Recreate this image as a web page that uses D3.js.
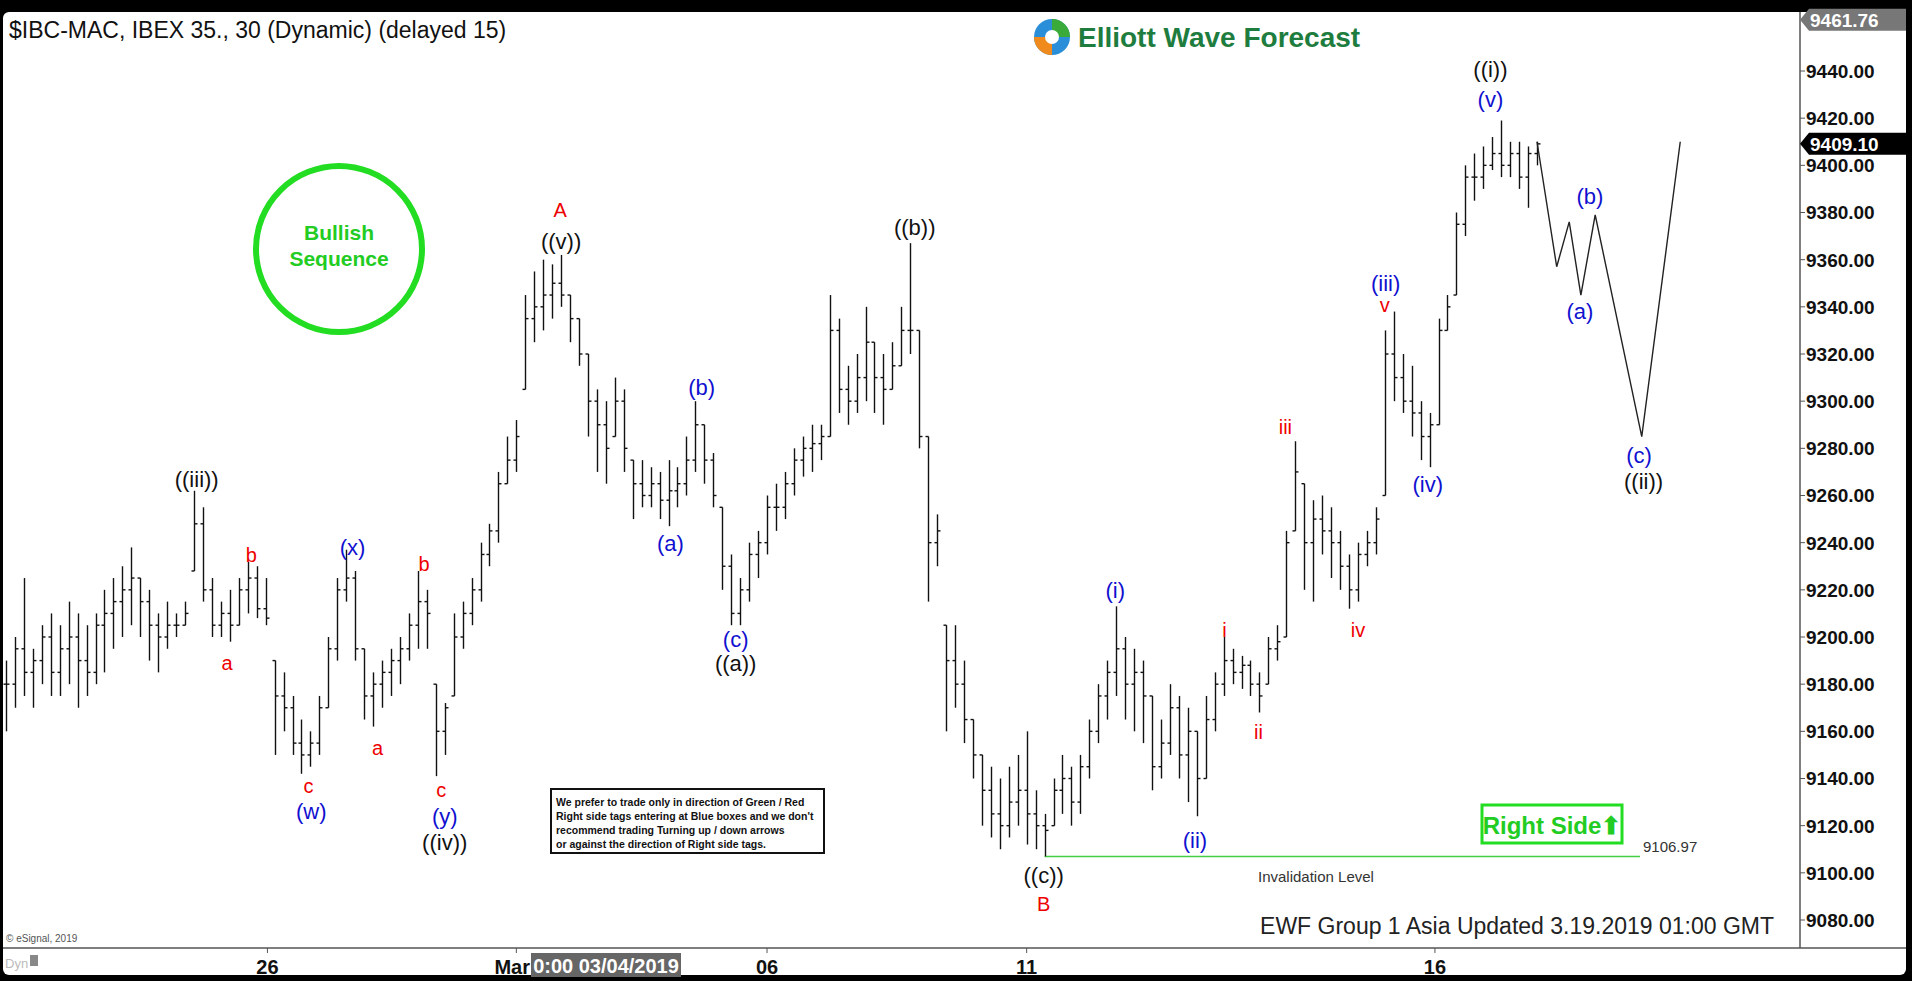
<!DOCTYPE html>
<html>
<head>
<meta charset="utf-8">
<script src="https://cdn.jsdelivr.net/npm/d3@7"></script>
<style>
  body { margin: 0; background: #000; }
  svg { display: block; font-family: Arial, "Liberation Sans", sans-serif; }
</style>
</head>
<body>
<svg id="chart" width="1912" height="981"></svg>
<script>
// 30 min bars: [high, low, close]
var bars = [
  [9190,9160,9180],[9200,9170,9195],[9225,9175,9185],[9195,9170,9190],[9205,9180,9200],
  [9210,9175,9185],[9205,9175,9195],[9215,9180,9200],[9210,9170,9190],[9205,9175,9185],
  [9210,9180,9205],[9220,9185,9210],[9225,9195,9215],[9230,9200,9220],[9238,9205,9225],
  [9225,9200,9215],[9220,9190,9205],[9210,9185,9200],[9215,9195,9205],[9210,9200,9205],
  [9215,9205,9210],[9262,9228,9248],[9255,9215,9220],[9225,9200,9205],[9215,9200,9210],
  [9220,9198,9205],[9225,9205,9220],[9232,9210,9225],[9230,9208,9212],[9225,9205,9208],
  [9190,9150,9175],[9185,9160,9170],[9175,9150,9155],[9165,9142,9150],[9160,9145,9155],
  [9175,9150,9170],[9200,9170,9195],[9225,9190,9220],[9237,9215,9225],[9228,9190,9195],
  [9195,9165,9175],[9185,9162,9180],[9190,9170,9185],[9195,9175,9190],[9200,9180,9195],
  [9210,9190,9205],[9228,9195,9215],[9220,9195,9210],[9180,9141,9160],[9172,9150,9170],
  [9210,9175,9200],[9215,9195,9210],[9225,9205,9220],[9240,9215,9235],[9248,9230,9245],
  [9270,9240,9265],[9285,9265,9275],[9292,9270,9285],[9345,9305,9335],[9355,9325,9340],
  [9360,9330,9345],[9358,9335,9350],[9362,9340,9345],[9345,9325,9335],[9335,9315,9320],
  [9320,9285,9300],[9305,9270,9290],[9300,9265,9280],[9310,9285,9300],[9305,9270,9280],
  [9275,9250,9265],[9275,9255,9260],[9272,9255,9265],[9270,9250,9258],[9275,9247,9262],
  [9272,9255,9265],[9285,9260,9275],[9300,9270,9290],[9290,9265,9275],[9278,9255,9260],
  [9255,9220,9230],[9235,9205,9210],[9225,9205,9220],[9240,9215,9235],[9245,9225,9240],
  [9260,9235,9255],[9265,9245,9255],[9270,9250,9265],[9280,9260,9275],[9285,9268,9280],
  [9290,9270,9282],[9290,9275,9285],[9345,9285,9330],[9335,9295,9305],[9315,9290,9300],
  [9320,9295,9310],[9340,9300,9325],[9325,9295,9310],[9320,9290,9305],[9325,9305,9315],
  [9340,9315,9330],[9367,9320,9330],[9330,9280,9285],[9285,9215,9240],[9252,9230,9245],
  [9205,9160,9190],[9205,9170,9180],[9190,9155,9165],[9165,9140,9150],[9150,9120,9135],
  [9145,9115,9125],[9140,9110,9120],[9145,9115,9130],[9150,9120,9135],[9160,9112,9125],
  [9135,9110,9120],[9125,9107,9118],[9140,9120,9135],[9150,9125,9140],[9145,9120,9130],
  [9150,9125,9145],[9165,9140,9160],[9180,9155,9175],[9190,9165,9185],[9213,9175,9195],
  [9200,9165,9180],[9195,9160,9185],[9190,9155,9175],[9175,9135,9145],[9165,9140,9155],
  [9180,9150,9170],[9175,9140,9150],[9170,9130,9160],[9160,9124,9140],[9175,9140,9165],
  [9185,9160,9180],[9200,9175,9190],[9195,9180,9185],[9192,9178,9188],[9190,9175,9180],
  [9185,9168,9175],[9200,9180,9195],[9205,9190,9198],[9245,9200,9240],[9283,9245,9270],
  [9265,9220,9240],[9258,9215,9250],[9260,9235,9245],[9255,9225,9240],[9245,9220,9230],
  [9235,9212,9220],[9240,9215,9235],[9245,9230,9240],[9255,9235,9250],[9330,9260,9320],
  [9338,9300,9310],[9320,9295,9300],[9315,9285,9295],[9300,9275,9285],[9295,9272,9290],
  [9335,9290,9330],[9345,9330,9340],[9380,9345,9375],[9400,9370,9395],[9405,9385,9395],
  [9408,9390,9400],[9412,9398,9405],[9419,9395,9400],[9410,9395,9405],[9410,9390,9395],
  [9408,9382,9405],[9410,9400,9409.1]
];

// projected path: [bar index, price]
var projIdx = [171, 173.2, 174.6, 175.9, 177.5, 182.7, 187];
var projPrice = [9410, 9357, 9376, 9345, 9379, 9285, 9410];

var priceTicks = [9440, 9420, 9400, 9380, 9360, 9340, 9320, 9300, 9280, 9260, 9240, 9220, 9200, 9180, 9160, 9140, 9120, 9100, 9080];
var dayIdx = [29.2, 57, 85, 114, 159.6];
var dayLabels = ["26", "Mar", "06", "11", "16"];

// wave labels: [bar index, price, text, colour]
var waveLabels = [
  [21.3, 9267, "((iii))", "black"], [27.4, 9235, "b", "red"], [24.7, 9189, "a", "red"],
  [38.7, 9238, "(x)", "blue"], [46.7, 9231, "b", "red"], [33.8, 9137, "c", "red"],
  [34.1, 9126, "(w)", "blue"], [41.5, 9153, "a", "red"], [48.6, 9135, "c", "red"],
  [49, 9124, "(y)", "blue"], [49, 9113, "((iv))", "black"], [61.9, 9381, "A", "red"],
  [62, 9368, "((v))", "black"], [77.7, 9306, "(b)", "blue"], [74.2, 9240, "(a)", "blue"],
  [81.5, 9199, "(c)", "blue"], [81.5, 9189, "((a))", "black"], [101.5, 9374, "((b))", "black"],
  [115.9, 9099, "((c))", "black"], [115.9, 9087, "B", "red"], [123.9, 9220, "(i)", "blue"],
  [132.8, 9114, "(ii)", "blue"], [136.1, 9203, "i", "red"], [139.9, 9160, "ii", "red"],
  [142.9, 9289, "iii", "red"], [151, 9203, "iv", "red"], [154.1, 9350, "(iii)", "blue"],
  [154, 9341, "v", "red"], [158.8, 9265, "(iv)", "blue"], [165.8, 9441, "((i))", "black"],
  [165.8, 9428, "(v)", "blue"], [176.9, 9387, "(b)", "blue"], [175.8, 9338, "(a)", "blue"],
  [182.4, 9277, "(c)", "blue"], [182.9, 9266, "((ii))", "black"]
];

var invalidation = 9106.97;
var lastPrice = 9409.10;
var topPrice = 9461.76;
var colours = { black: "#111", red: "#e00", blue: "#1010d0" };

var svg = d3.select("#chart");
var W = 1912, H = 981, axisX = 1800, axisY = 948;

var x = d3.scaleLinear().domain([0, 171]).range([6, 1537]);
var y = d3.scaleLinear().domain([9440, 9080]).range([71, 920]);

// frame
svg.append("rect").attr("width", W).attr("height", H).attr("fill", "#000");
svg.append("rect").attr("x", 3).attr("y", 12).attr("width", 1903).attr("height", 963)
  .attr("rx", 6).attr("fill", "#fff");

// axes lines
svg.append("line").attr("x1", axisX).attr("x2", axisX).attr("y1", 12).attr("y2", axisY)
  .attr("stroke", "#555").attr("stroke-width", 1.5);
svg.append("line").attr("x1", 3).attr("x2", 1906).attr("y1", axisY).attr("y2", axisY)
  .attr("stroke", "#555").attr("stroke-width", 1.5);

var yAxis = svg.append("g");
priceTicks.forEach(function (p) {
  yAxis.append("line").attr("x1", axisX).attr("x2", axisX + 5).attr("y1", y(p)).attr("y2", y(p)).attr("stroke", "#555");
  yAxis.append("text").attr("x", axisX + 6).attr("y", y(p)).attr("dy", "0.36em")
    .attr("font-size", 19).attr("font-weight", "bold").attr("fill", "#111").text(p.toFixed(2));
});

function priceTag(p, bg, label) {
  var yy = y(p);
  yAxis.append("path")
    .attr("d", "M" + axisX + "," + yy + " L" + (axisX + 9) + "," + (yy - 11) + " L" + 1906 + "," + (yy - 11) +
      " L" + 1906 + "," + (yy + 11) + " L" + (axisX + 9) + "," + (yy + 11) + " Z")
    .attr("fill", bg);
  yAxis.append("text").attr("x", axisX + 10).attr("y", yy).attr("dy", "0.36em")
    .attr("font-size", 19).attr("font-weight", "bold").attr("fill", "#fff").text(label);
}
priceTag(topPrice, "#777", topPrice.toFixed(2));
priceTag(lastPrice, "#000", lastPrice.toFixed(2));

// x axis day labels
dayIdx.forEach(function (d, i) {
  svg.append("line").attr("x1", x(d)).attr("x2", x(d)).attr("y1", axisY).attr("y2", axisY + 5).attr("stroke", "#555");
  var isMar = dayLabels[i] === "Mar";
  svg.append("text").attr("x", isMar ? 530 : x(d)).attr("y", 967).attr("dy", "0.36em")
    .attr("text-anchor", isMar ? "end" : "middle")
    .attr("font-size", 20).attr("font-weight", "bold").attr("fill", "#111").text(dayLabels[i]);
});
svg.append("rect").attr("x", 531).attr("y", 953).attr("width", 150).attr("height", 24).attr("fill", "#666");
svg.append("text").attr("x", 606).attr("y", 966).attr("dy", "0.36em").attr("text-anchor", "middle")
  .attr("font-size", 20).attr("font-weight", "bold").attr("fill", "#fff").text("0:00 03/04/2019");
svg.append("text").attr("x", 5).attr("y", 963).attr("dy", "0.36em").attr("font-size", 13).attr("fill", "#bbb").text("Dyn");
svg.append("rect").attr("x", 30).attr("y", 955).attr("width", 8).attr("height", 11).attr("fill", "#888");
svg.append("text").attr("x", 6).attr("y", 942).attr("font-size", 10).attr("fill", "#555").text("© eSignal, 2019");

// title + logo
svg.append("text").attr("x", 9).attr("y", 38).attr("font-size", 23).attr("fill", "#111")
  .text("$IBC-MAC, IBEX 35., 30 (Dynamic) (delayed 15)");
var logo = svg.append("g").attr("transform", "translate(1052,37)");
logo.append("circle").attr("r", 18).attr("fill", "#2a8fd8");
logo.append("path").attr("d", "M-18,0 A18,18 0 0,0 0,18 L0,6 A6,6 0 0,1 -6,0 Z").attr("fill", "#f08a1c");
logo.append("path").attr("d", "M0,-18 A18,18 0 0,1 18,0 L6,0 A6,6 0 0,0 0,-6 Z").attr("fill", "#3aaa3a");
logo.append("circle").attr("r", 7).attr("fill", "#fff");
svg.append("text").attr("x", 1078).attr("y", 47).attr("font-size", 28).attr("font-weight", "bold")
  .attr("fill", "#1e7d3e").text("Elliott Wave Forecast");

// bullish sequence badge
svg.append("circle").attr("cx", 339).attr("cy", 249).attr("r", 83).attr("fill", "none")
  .attr("stroke", "#22dd22").attr("stroke-width", 6);
svg.append("text").attr("x", 339).attr("y", 240).attr("text-anchor", "middle").attr("font-size", 21)
  .attr("font-weight", "bold").attr("fill", "#22cc22").text("Bullish");
svg.append("text").attr("x", 339).attr("y", 266).attr("text-anchor", "middle").attr("font-size", 21)
  .attr("font-weight", "bold").attr("fill", "#22cc22").text("Sequence");

// note box
var note = ["We prefer to trade only in direction of Green / Red",
  "Right side tags entering at Blue boxes and we don't",
  "recommend trading Turning up / down arrows",
  "or against the direction of Right side tags."];
svg.append("rect").attr("x", 551).attr("y", 789).attr("width", 273).attr("height", 64)
  .attr("fill", "#fff").attr("stroke", "#111").attr("stroke-width", 2);
note.forEach(function (t, i) {
  svg.append("text").attr("x", 556).attr("y", 806 + i * 14).attr("font-size", 10.5)
    .attr("font-weight", "bold").attr("fill", "#111").text(t);
});

// invalidation
svg.append("line").attr("x1", x(116)).attr("x2", 1640).attr("y1", y(invalidation)).attr("y2", y(invalidation))
  .attr("stroke", "#44cc44").attr("stroke-width", 1.5);
svg.append("text").attr("x", 1643).attr("y", y(invalidation) - 4).attr("font-size", 15).attr("fill", "#333").text("9106.97");
svg.append("text").attr("x", 1258).attr("y", y(invalidation) + 26).attr("font-size", 15).attr("fill", "#333").text("Invalidation Level");

// right side tag
svg.append("rect").attr("x", 1482).attr("y", 805).attr("width", 140).attr("height", 38)
  .attr("fill", "#fff").attr("stroke", "#22dd22").attr("stroke-width", 3);
svg.append("text").attr("x", 1552).attr("y", 825).attr("dy", "0.36em").attr("text-anchor", "middle")
  .attr("font-size", 24).attr("font-weight", "bold").attr("fill", "#22cc22").text("Right Side\u2B06");

svg.append("text").attr("x", 1774).attr("y", 934).attr("text-anchor", "end").attr("font-size", 23)
  .attr("fill", "#222").text("EWF Group 1 Asia  Updated 3.19.2019 01:00 GMT");

// OHLC bars
var g = svg.append("g").attr("stroke", "#111").attr("stroke-width", 1.4);
bars.forEach(function (b, i) {
  var open = i > 0 ? bars[i - 1][2] : b[2];
  open = Math.max(b[1], Math.min(b[0], open));
  var xx = Math.round(x(i)) + 0.5;
  g.append("line").attr("x1", xx).attr("x2", xx).attr("y1", y(b[0])).attr("y2", y(b[1]));
  g.append("line").attr("x1", xx - 3).attr("x2", xx).attr("y1", y(open)).attr("y2", y(open));
  g.append("line").attr("x1", xx).attr("x2", xx + 3).attr("y1", y(b[2])).attr("y2", y(b[2]));
});

// projection
var proj = projIdx.map(function (d, i) { return [d, projPrice[i]]; });
svg.append("path").datum(proj)
  .attr("d", d3.line().x(function (d) { return x(d[0]); }).y(function (d) { return y(d[1]); }))
  .attr("fill", "none").attr("stroke", "#222").attr("stroke-width", 1.4);

// wave labels
waveLabels.forEach(function (l) {
  svg.append("text").attr("x", x(l[0])).attr("y", y(l[1])).attr("dy", "0.36em").attr("text-anchor", "middle")
    .attr("font-size", l[3] === "red" ? 20 : 22).attr("fill", colours[l[3]]).text(l[2]);
});
</script>
</body>
</html>
